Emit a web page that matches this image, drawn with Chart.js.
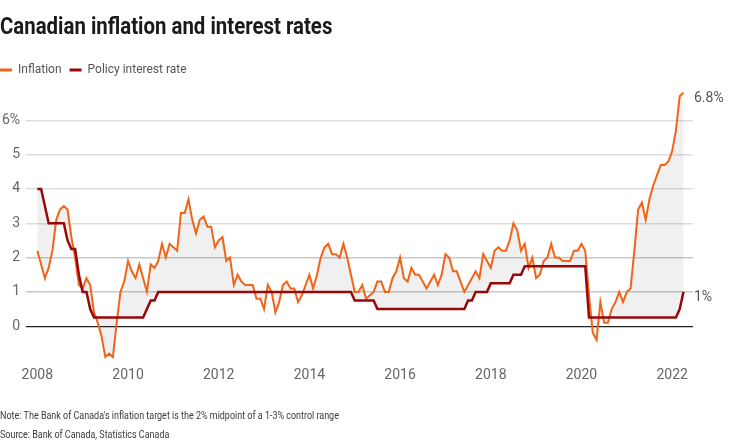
<!DOCTYPE html>
<html>
<head>
<meta charset="utf-8">
<script src="https://cdn.jsdelivr.net/npm/chart.js@4"></script>
<style>
  html, body { margin: 0; padding: 0; background: #fff; }
</style>
</head>
<body>
<canvas id="chart" width="736" height="446"></canvas>
<script>
// monthly values, Jan 2008 to Apr 2022
const startYear = 2008;

const inflation = [
  2.2, 1.8, 1.4, 1.7, 2.2, 3.1, 3.4, 3.5, 3.4, 2.6, 2.0, 1.2,
  1.1, 1.4, 1.2, 0.4, 0.1, -0.3, -0.9, -0.8, -0.9, 0.1, 1.0, 1.3,
  1.9, 1.6, 1.4, 1.8, 1.4, 1.0, 1.8, 1.7, 1.9, 2.4, 2.0, 2.4,
  2.3, 2.2, 3.3, 3.3, 3.7, 3.1, 2.7, 3.1, 3.2, 2.9, 2.9, 2.3,
  2.5, 2.6, 1.9, 2.0, 1.2, 1.5, 1.3, 1.2, 1.2, 1.2, 0.8, 0.8,
  0.5, 1.2, 1.0, 0.4, 0.7, 1.2, 1.3, 1.1, 1.1, 0.7, 0.9, 1.2,
  1.5, 1.1, 1.5, 2.0, 2.3, 2.4, 2.1, 2.1, 2.0, 2.4, 2.0, 1.5,
  1.0, 1.0, 1.2, 0.8, 0.9, 1.0, 1.3, 1.3, 1.0, 1.0, 1.4, 1.6,
  2.0, 1.4, 1.3, 1.7, 1.5, 1.5, 1.3, 1.1, 1.3, 1.5, 1.2, 1.5,
  2.1, 2.0, 1.6, 1.6, 1.3, 1.0, 1.2, 1.4, 1.6, 1.4, 2.1, 1.9,
  1.7, 2.2, 2.3, 2.2, 2.2, 2.5, 3.0, 2.8, 2.2, 2.4, 1.7, 2.0,
  1.4, 1.5, 1.9, 2.0, 2.4, 2.0, 2.0, 1.9, 1.9, 1.9, 2.2, 2.2,
  2.4, 2.2, 0.9, -0.2, -0.4, 0.7, 0.1, 0.1, 0.5, 0.7, 1.0, 0.7,
  1.0, 1.1, 2.2, 3.4, 3.6, 3.1, 3.7, 4.1, 4.4, 4.7, 4.7, 4.8,
  5.1, 5.7, 6.7, 6.8
];

const policyRate = [
  4, 4, 3.5, 3, 3, 3, 3, 3, 2.5, 2.25, 2.25, 1.5,
  1, 1, 0.5, 0.25, 0.25, 0.25, 0.25, 0.25, 0.25, 0.25, 0.25, 0.25,
  0.25, 0.25, 0.25, 0.25, 0.25, 0.5, 0.75, 0.75, 1, 1, 1, 1,
  1, 1, 1, 1, 1, 1, 1, 1, 1, 1, 1, 1,
  1, 1, 1, 1, 1, 1, 1, 1, 1, 1, 1, 1,
  1, 1, 1, 1, 1, 1, 1, 1, 1, 1, 1, 1,
  1, 1, 1, 1, 1, 1, 1, 1, 1, 1, 1, 1,
  0.75, 0.75, 0.75, 0.75, 0.75, 0.75, 0.5, 0.5, 0.5, 0.5, 0.5, 0.5,
  0.5, 0.5, 0.5, 0.5, 0.5, 0.5, 0.5, 0.5, 0.5, 0.5, 0.5, 0.5,
  0.5, 0.5, 0.5, 0.5, 0.5, 0.5, 0.75, 0.75, 1, 1, 1, 1,
  1.25, 1.25, 1.25, 1.25, 1.25, 1.25, 1.5, 1.5, 1.5, 1.75, 1.75, 1.75,
  1.75, 1.75, 1.75, 1.75, 1.75, 1.75, 1.75, 1.75, 1.75, 1.75, 1.75, 1.75,
  1.75, 1.75, 0.25, 0.25, 0.25, 0.25, 0.25, 0.25, 0.25, 0.25, 0.25, 0.25,
  0.25, 0.25, 0.25, 0.25, 0.25, 0.25, 0.25, 0.25, 0.25, 0.25, 0.25, 0.25,
  0.25, 0.25, 0.5, 1
];

const seriesNames = ['Inflation', 'Policy interest rate'];
const yearTicks = [2008, 2010, 2012, 2014, 2016, 2018, 2020, 2022];
const yTicks = [0, 1, 2, 3, 4, 5, 6];
const titleText = 'Canadian inflation and interest rates';
const noteLines = [
  "Note: The Bank of Canada's inflation target is the 2% midpoint of a 1-3% control range",
  'Source: Bank of Canada, Statistics Canada'
];

const sans = "Roboto, 'Liberation Sans', sans-serif";

const toPoints = arr => arr.map((v, i) => ({x: startYear + i / 12, y: v}));

// the reference uses a condensed face, so squeeze the header/footer text
function condensedText(ctx, text, x, y, font, color, squeeze) {
  ctx.save();
  ctx.font = font;
  ctx.fillStyle = color;
  ctx.textBaseline = 'middle';
  ctx.textAlign = 'left';
  ctx.translate(x, y);
  ctx.scale(squeeze, 1);
  ctx.fillText(text, 0, 0);
  ctx.restore();
}

const headerFooter = {
  id: 'headerFooter',
  afterDraw(chart) {
    const {ctx} = chart;
    condensedText(ctx, titleText, 0, 28, 'bold 24px ' + sans, '#1a1a1a', 0.85);
    noteLines.forEach((line, i) => {
      condensedText(ctx, line, 0, 416 + i * 19, '11.5px ' + sans, '#3a3a3a', 0.78);
    });
  }
};

// value labels at the right end of each line
const endLabels = {
  id: 'endLabels',
  afterDatasetsDraw(chart) {
    const {ctx, chartArea} = chart;
    ctx.save();
    ctx.font = '14px ' + sans;
    ctx.fillStyle = '#555';
    ctx.textBaseline = 'middle';
    ctx.textAlign = 'left';
    chart.data.datasets.forEach((ds, i) => {
      const pts = chart.getDatasetMeta(i).data;
      const last = pts[pts.length - 1];
      ctx.fillText(ds.data[ds.data.length - 1].y + '%', chartArea.right + 1, last.y + 6);
    });
    ctx.restore();
  }
};

// legend starts flush with the left edge
const legendShift = {
  id: 'legendShift',
  afterLayout(chart) {
    chart.legend.left -= chart.legend.options.labels.padding;
  }
};

new Chart(document.getElementById('chart'), {
  type: 'line',
  data: {
    datasets: [
      {
        label: seriesNames[0],
        data: toPoints(inflation),
        borderColor: '#f06418',
        backgroundColor: 'rgba(0,0,0,0.058)',
        borderWidth: 2,
        pointRadius: 0,
        fill: {target: 1},
        order: 1
      },
      {
        label: seriesNames[1],
        data: toPoints(policyRate),
        borderColor: '#980808',
        borderWidth: 2.5,
        pointRadius: 0,
        fill: false,
        order: 0
      }
    ]
  },
  options: {
    responsive: false,
    animation: false,
    devicePixelRatio: 1,
    layout: {padding: {left: 0, right: 43, top: 56, bottom: 54.7}},
    plugins: {
      title: {display: false},
      legend: {
        align: 'start',
        labels: {
          boxWidth: 12,
          boxHeight: 3,
          padding: 8,
          color: '#555',
          font: {family: sans, size: 12},
          sort: (a, b) => a.datasetIndex - b.datasetIndex,
          generateLabels: chart => Chart.defaults.plugins.legend.labels.generateLabels(chart)
            .map(l => Object.assign(l, {fillStyle: l.strokeStyle, lineWidth: 0}))
        }
      },
      tooltip: {enabled: false}
    },
    scales: {
      x: {
        type: 'linear',
        min: 2007.75,
        max: 2022.46,
        grid: {display: false, drawTicks: false},
        border: {display: false},
        afterBuildTicks: s => { s.ticks = yearTicks.map(v => ({value: v})); },
        ticks: {
          callback: v => String(v),
          color: '#666',
          font: {family: sans, size: 14},
          padding: 7,
          maxRotation: 0,
          autoSkip: false
        }
      },
      y: {
        min: -1,
        max: 7,
        afterBuildTicks: s => { s.ticks = yTicks.map(v => ({value: v})); },
        afterFit: s => { s.width = 26; },
        border: {display: false},
        grid: {
          drawTicks: false,
          color: c => c.tick.value === 0 ? '#222' : (c.tick.value <= 2 ? '#c8c8c8' : '#dddddd'),
          lineWidth: c => c.tick.value === 0 ? 1.2 : 1.5
        },
        ticks: {
          callback: v => v === 6 ? '6%' : String(v),
          color: '#666',
          font: {family: sans, size: 14},
          padding: 6
        }
      }
    }
  },
  plugins: [endLabels, legendShift, headerFooter]
});
</script>
</body>
</html>
